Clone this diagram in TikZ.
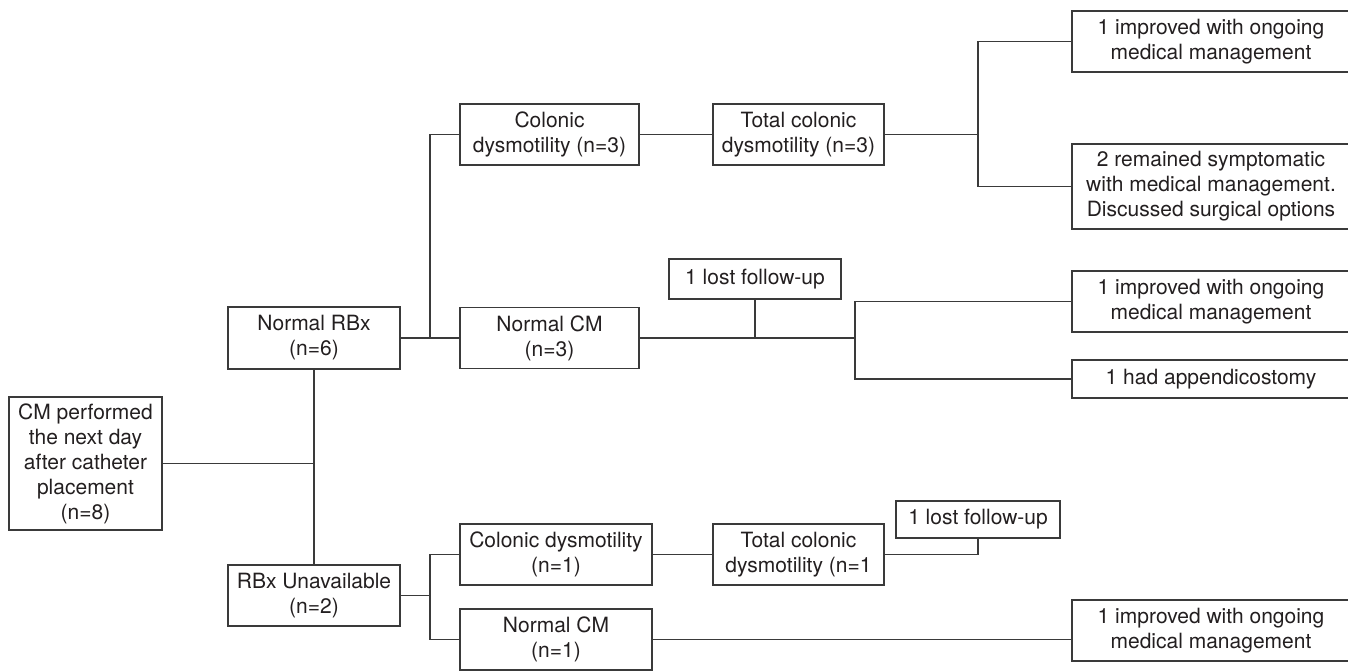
\documentclass[tikz,border=0pt]{standalone}
\usepackage{fontspec}
\setmainfont{TeX Gyre Heros}
\definecolor{fcInk}{HTML}{231F20}
\definecolor{fcLine}{HTML}{3A3A3A}
\tikzset{
 chart/.style={x=1pt,y=-1pt,font=\fontsize{21}{25}\selectfont,text=fcInk,line join=miter},
 flowbox/.style={rectangle,draw=fcLine,fill=white,line width=1.3pt,inner sep=0pt,align=center},
 link/.style={draw=fcLine,line width=1.3pt}
}

\begin{document}
\begin{tikzpicture}[chart]
 \useasboundingbox (0,0) rectangle (1348,671);
 \node[flowbox,minimum width=153,minimum height=133] (start) at (85.5,463.5) {CM performed\\the next day\\after catheter\\placement\\(n=8)};
 \node[flowbox,minimum width=172,minimum height=62] (nrbx) at (314,338) {Normal RBx\\(n=6)};
 \node[flowbox,minimum width=172,minimum height=61] (rbxu) at (314,595.5) {RBx Unavailable\\(n=2)};
 \node[flowbox,minimum width=179,minimum height=61] (cdA) at (549.5,134.5) {Colonic\\dysmotility (n=3)};
 \node[flowbox,minimum width=171,minimum height=61] (tcdA) at (798.5,134.5) {Total colonic\\dysmotility (n=3)};
 \node[flowbox,minimum width=278,minimum height=61] (impA) at (1211,41.5) {1 improved with ongoing\\medical management};
 \node[flowbox,minimum width=278,minimum height=85] (sympA) at (1211,186.5) {2 remained symptomatic\\with medical management.\\Discussed surgical options};
 \node[flowbox,minimum width=172,minimum height=40] (lostA) at (755,279) {1 lost follow-up};
 \node[flowbox,minimum width=179,minimum height=61] (ncmA) at (549.5,338) {Normal CM\\(n=3)};
 \node[flowbox,minimum width=278,minimum height=61] (impB) at (1211,301.5) {1 improved with ongoing\\medical management};
 \node[flowbox,minimum width=278,minimum height=38] (appB) at (1211,379) {1 had appendicostomy};
 \node[flowbox,minimum width=192,minimum height=61] (cdB) at (556,554.5) {Colonic dysmotility\\(n=1)};
 \node[flowbox,minimum width=171,minimum height=61] (tcdB) at (798.5,554.5) {Total colonic\\dysmotility (n=1};
 \node[flowbox,minimum width=164,minimum height=37] (lostB) at (978,519.5) {1 lost follow-up};
 \node[flowbox,minimum width=192,minimum height=61] (ncmB) at (556,639.5) {Normal CM\\(n=1)};
 \node[flowbox,minimum width=278,minimum height=61] (impC) at (1211,630.5) {1 improved with ongoing\\medical management};
 \coordinate (jA) at (430,338);
 \coordinate (jB) at (978,134.5);
 \coordinate (jC) at (855,338);
 \coordinate (jD) at (430,595.5);
 \draw[link] (start.east) -- (start.east -| nrbx.south);
 \draw[link] (nrbx.south) -- (rbxu.north);
 \draw[link] (nrbx.east) -- (jA);
 \draw[link] (cdA.west) -| (jA) -- (ncmA.west);
 \draw[link] (cdA) -- (tcdA);
 \draw[link] (tcdA.east) -- (jB);
 \draw[link] (impA.west) -| (jB) |- (sympA.west);
 \draw[link] (ncmA.east) -- (jC);
 \draw[link] (lostA.south) -- (lostA.south |- ncmA.east);
 \draw[link] (impB.west) -| (jC) |- (appB.west);
 \draw[link] (rbxu.east) -- (jD);
 \draw[link] (cdB.west) -| (jD) |- (ncmB.west);
 \draw[link] (cdB) -- (tcdB);
 \draw[link] (tcdB.east) -| (lostB.south);
 \draw[link] (ncmB.east) -- (ncmB.east -| impC.west);
\end{tikzpicture}
\end{document}
